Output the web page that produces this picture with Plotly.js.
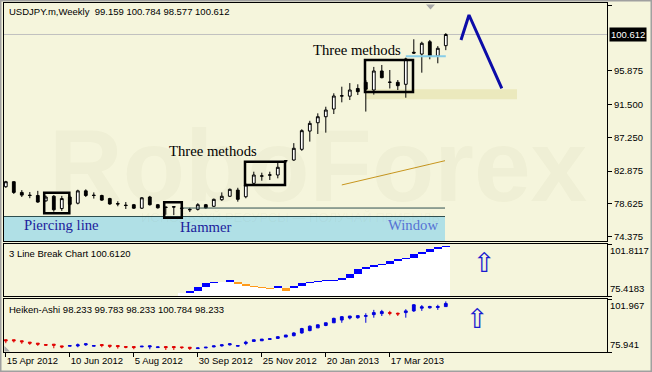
<!DOCTYPE html>
<html><head><meta charset="utf-8">
<script src="https://cdn.plot.ly/plotly-3.0.1.min.js"></script>
<style>html,body{margin:0;padding:0;background:#f5f5dc;}#chart{width:652px;height:372px;}</style>
</head><body><div id="chart"></div>
<script>
// ---------- data ----------
const symbolLabel = 'USDJPY.m,Weekly  99.159 100.784 98.577 100.612';
const lbLabel = '3 Line Break Chart 100.6120';
const haLabel = 'Heiken-Ashi 98.233 99.783 98.233 100.784 98.233';
const firstWeek = '2012-04-15';

const open  = [80.84,81.49,80.1,79.75,79.7,79.0,79.6,78.0,79.5,78.7,80.3,79.75,79.7,79.3,78.65,78.45,78.5,78.05,79.5,78.5,78.2,78.25,78.0,77.9,77.9,78.5,78.3,79.15,79.6,80.4,79.54,81.28,82.2,82.33,82.36,84.18,84.31,85.7,88.07,89.15,89.93,90.93,92.6,92.6,93.6,94.4,93.4,95.87,94.38,94.4,94.14,98.3,98.07,99.67,97.82,99.159];
const high  = [81.6,81.55,80.4,80.15,80.3,79.7,79.75,79.65,79.7,80.45,80.5,80.1,79.8,79.4,78.95,78.85,78.6,79.5,79.65,78.6,78.25,78.3,78.2,78.1,78.7,78.6,79.3,80.1,80.6,80.7,81.28,82.79,82.66,82.79,83.96,84.3,86.5,88.3,89.4,90.37,91.23,92.97,93.83,94.3,94.14,94.7,96.4,96.65,96.0,94.7,97.6,99.99,99.67,99.9,99.1,100.784];
const low   = [80.7,79.9,79.5,79.35,78.75,78.9,77.6,77.7,78.4,78.55,79.5,79.3,79.0,78.5,78.3,77.95,77.95,77.95,78.4,78.0,77.2,77.15,77.9,77.55,77.75,78.0,78.2,79.0,79.5,78.9,79.34,81.19,81.62,81.71,81.93,83.9,84.2,85.5,86.7,87.69,87.86,90.28,91.8,92.1,92.75,90.6,92.8,94.92,93.6,93.4,92.4,98.1,95.65,97.39,96.87,98.577];
const close = [81.49,80.1,79.75,79.7,78.85,79.5,77.85,79.3,78.55,80.3,79.7,79.7,79.1,78.6,78.6,78.4,78.05,79.4,78.5,78.1,78.15,78.2,78.05,77.85,78.5,78.1,79.2,79.6,80.5,79.2,81.07,82.36,82.25,82.38,83.36,84.22,85.83,88.12,89.07,89.93,90.8,92.62,92.66,93.4,93.18,93.5,95.87,95.0,94.42,93.96,97.43,98.2,99.47,97.82,98.82,100.612];

const yTicks = [104.375,95.875,91.5,87.25,82.875,78.625,74.375];
const lastPrice = 100.612;
const tickDates = ['2012-04-15','2012-06-10','2012-08-05','2012-09-30','2012-11-25','2013-01-20','2013-03-17'];
const tickText = ['15 Apr 2012','10 Jun 2012','5 Aug 2012','30 Sep 2012','25 Nov 2012','20 Jan 2013','17 Mar 2013'];

// 3 line break panel (bricks from week 23)
const lbMin = 75.4183, lbMax = 101.8117;
const lbStart = 23;
const lbBottom = [77.09,78.11,80.14,81.86,82.37,82.68,81.36,80.65,80.14,79.63,78.97,79.63,78.11,79.63,80.65,81.86,82.68,83.0,83.1,83.54,84.40,86.58,88.97,90.29,91.15,91.66,93.34,94.05,94.55,96.58,97.90,99.12,100.14];
const lbTop    = [78.11,80.14,81.86,82.37,82.68,83.54,82.68,81.36,80.65,80.14,79.63,80.49,79.63,80.65,81.86,82.68,83.19,83.5,83.6,84.40,86.58,88.97,90.29,91.15,91.66,93.34,94.05,94.55,96.58,97.90,99.12,100.14,100.612];
const lbUp     = [1,1,1,1,1,1,0,0,0,0,0,1,0,1,1,1,1,1,1,1,1,1,1,1,1,1,1,1,1,1,1,1,1];
const lbFillStart = 22, lbFillFirst = 77.09;

// Heiken-Ashi panel
const haMin = 75.941, haMax = 101.967;
const haOpen  = [81.95,81.95,81.45,80.79,80.28,79.61,79.78,78.94,78.78,78.94,79.45,78.78,79.61,79.28,79.11,78.61,78.61,78.44,78.44,78.11,78.61,78.61,78.44,78.28,77.61,77.94,78.44,78.94,79.45,78.78,80.11,81.13,81.45,82.12,82.62,83.28,83.95,85.29,86.45,87.79,88.96,90.29,91.63,92.62,92.79,93.46,94.29,94.79,95.29,94.96,95.29,96.13,97.46,97.63,97.80,98.233];
const haHigh  = [81.95,81.95,81.45,80.79,80.28,79.61,79.78,78.94,79.11,80.11,80.11,79.11,79.61,79.28,79.11,78.61,78.61,78.78,78.94,78.44,78.61,78.61,78.44,78.28,77.94,78.28,78.94,79.45,80.11,79.11,81.45,81.95,82.28,82.45,83.62,84.28,85.62,87.79,88.96,89.45,90.29,92.79,93.62,93.62,93.96,94.96,96.63,96.63,96.13,95.29,96.96,99.47,98.97,98.63,99.13,100.784];
const haLow   = [80.28,80.62,79.95,79.45,78.94,79.28,77.78,77.78,78.78,78.28,78.94,78.78,78.28,77.94,77.61,77.78,77.28,78.44,77.28,78.11,76.94,76.94,77.44,76.94,77.61,77.94,78.28,78.61,79.11,78.78,79.28,81.13,81.45,82.12,82.45,83.28,83.62,84.95,86.12,87.79,88.62,90.29,90.29,91.96,92.29,90.29,92.79,93.62,93.96,93.62,92.79,95.63,96.13,97.30,96.63,98.233];
const haClose = [81.45,81.45,80.96,80.28,79.78,79.28,79.28,78.44,79.11,79.45,79.95,79.11,79.11,78.78,78.61,78.28,78.11,78.78,78.94,78.44,78.11,78.11,78.11,77.78,77.94,78.28,78.94,79.45,79.95,79.11,80.79,81.95,82.28,82.45,83.45,84.28,85.29,87.45,88.62,89.29,90.29,92.46,93.29,93.62,93.79,93.79,95.29,95.79,94.96,94.63,96.13,99.13,98.13,98.30,98.30,99.783];

// drawn analysis objects: [fromWeek, toWeek, lowPrice, highPrice]
const patternBoxes = [[4.8,7.94,77.39,80.06],[19.8,22.0,76.82,78.82],[29.9,34.9,81.07,84.09],[44.9,50.9,93.14,97.3]];
const windowBand = [-1, 54.9, 73.0, 76.97];
const supportLine = [22, 54.9, 78.07];
const gapLine = [50, 55, 97.8];
const targetZone = [44.9, 63.9, 92.19, 93.49];
const trendWeeks = [42.0, 54.9], trendPrice = [81.07, 84.22];
const zigzagWeeks = [56.9, 57.9, 62.0], zigzagPrice = [99.89, 103.14, 93.62];
const patternLabels = [
  ['Three methods', 25.9, 85.48, '#000000'],
  ['Three methods', 43.9, 98.6, '#000000'],
  ['Piercing line', 6.9, 75.87, '#20209c'],
  ['Hammer', 24.9, 75.6, '#20209c'],
  ['Window', 50.9, 75.87, '#5672d4']
];

// ---------- helpers ----------
const WEEK = 7*24*3600*1000;
const T0 = Date.parse(firstWeek + 'T00:00:00Z');
const wk = f => new Date(T0 + f*WEEK).toISOString().slice(0,19).replace('T',' ');
const dates = open.map((_, i) => wk(i));
const PL = 4, PR = 607, PT = 3, PB = 352;
const px = x => (x - PL) / (PR - PL);
const py = y => (PB - y) / (PB - PT);

// ---------- traces ----------
const traces = [];
traces.push({type:'candlestick', x:dates, open, high, low, close, xaxis:'x', yaxis:'y',
  increasing:{line:{color:'#000',width:1}, fillcolor:'#ffffff'},
  decreasing:{line:{color:'#000',width:1}, fillcolor:'#000000'},
  whiskerwidth:0, hoverinfo:'skip'});
traces.push({type:'scatter', mode:'lines', x:zigzagWeeks.map(wk), y:zigzagPrice, xaxis:'x', yaxis:'y',
  line:{color:'#0c0ca8', width:3}, hoverinfo:'skip'});
traces.push({type:'scatter', mode:'lines', x:trendWeeks.map(wk), y:trendPrice, xaxis:'x', yaxis:'y',
  line:{color:'#c8961e', width:1}, hoverinfo:'skip'});

const fillTop = [lbFillFirst].concat(lbBottom);
traces.push({type:'bar', x:dates.slice(lbFillStart), base:lbMin, y:fillTop.map(t => t - lbMin),
  width:WEEK, marker:{color:'#ffffff', line:{width:0}}, xaxis:'x2', yaxis:'y2', hoverinfo:'skip'});
traces.push({type:'bar', x:dates.slice(lbStart), base:lbBottom, y:lbTop.map((t,i) => t - lbBottom[i]),
  width:WEEK, marker:{color:lbUp.map(u => u ? '#0000ff' : '#ff9a1a'), line:{width:0}}, xaxis:'x2', yaxis:'y2', hoverinfo:'skip'});

traces.push({type:'candlestick', x:dates, open:haOpen, high:haHigh, low:haLow, close:haClose, xaxis:'x3', yaxis:'y3',
  increasing:{line:{color:'#0000dd',width:1}, fillcolor:'#0000dd'},
  decreasing:{line:{color:'#e00000',width:1}, fillcolor:'#e00000'},
  whiskerwidth:0, hoverinfo:'skip'});

// ---------- shapes ----------
const shapes = [];
shapes.push({type:'rect', xref:'x', yref:'y', x0:wk(targetZone[0]), x1:wk(targetZone[1]), y0:targetZone[2], y1:targetZone[3], fillcolor:'#ebe9bd', line:{width:0}, layer:'below'});
shapes.push({type:'rect', xref:'x', yref:'y', x0:wk(windowBand[0]), x1:wk(windowBand[1]), y0:windowBand[2], y1:windowBand[3], fillcolor:'#b0e0e6', line:{width:0}, layer:'below'});
shapes.push({type:'line', xref:'x', yref:'y', x0:wk(windowBand[0]), x1:wk(windowBand[1]), y0:windowBand[3], y1:windowBand[3], line:{color:'#2f4f4f', width:1}});
shapes.push({type:'line', xref:'x', yref:'y', x0:wk(supportLine[0]), x1:wk(supportLine[1]), y0:supportLine[2], y1:supportLine[2], line:{color:'#2f4f4f', width:1}});
shapes.push({type:'line', xref:'x', yref:'y', x0:wk(gapLine[0]), x1:wk(gapLine[1]), y0:gapLine[2], y1:gapLine[2], line:{color:'#87cde8', width:2}});
shapes.push({type:'line', xref:'paper', yref:'y', x0:0, x1:1, y0:lastPrice, y1:lastPrice, line:{color:'#c0c0c0', width:1}, layer:'below'});
patternBoxes.forEach(b => shapes.push({type:'rect', xref:'x', yref:'y', x0:wk(b[0]), x1:wk(b[1]), y0:b[2], y1:b[3], line:{color:'#000', width:2.5}, fillcolor:'rgba(0,0,0,0)'}));
// MT4 shift marker and corner marker
shapes.push({type:'path', xref:'paper', yref:'paper', path:`M ${px(426)} ${py(4.5)} L ${px(435)} ${py(4.5)} L ${px(430.5)} ${py(9.5)} Z`, fillcolor:'#a8a8a8', line:{width:0}});
shapes.push({type:'path', xref:'paper', yref:'paper', path:`M ${px(4.5)} ${py(346)} L ${px(4.5)} ${py(351.5)} L ${px(10)} ${py(351.5)} Z`, fillcolor:'#a8a8a8', line:{width:0}});
// window frame
shapes.push({type:'rect', xref:'paper', yref:'paper', x0:px(0), x1:px(652), y0:py(372), y1:py(0), line:{color:'#a0a0a0', width:3}, fillcolor:'rgba(0,0,0,0)'});

// ---------- annotations ----------
const sansFont = 'Liberation Sans, Arial, sans-serif';
const annotations = [];
annotations.push({text:'RoboForex', xref:'paper', yref:'paper', x:px(318), y:py(166), showarrow:false,
  font:{family:sansFont, size:102, color:'rgba(90,90,30,0.035)', weight:'bold'}});
annotations.push({text:'ИСПОЛЬЗУЙ РЕСУРСЫ — ПОЛУЧАЙ ПРИБЫЛЬ', xref:'paper', yref:'paper', x:px(442), y:py(217), showarrow:false,
  font:{family:sansFont, size:13, color:'rgba(90,90,30,0.05)'}});
[[symbolLabel,12],[lbLabel,253],[haLabel,309]].forEach(([t,y]) => annotations.push({text:t, xref:'paper', yref:'paper', x:px(7), y:py(y),
  xanchor:'left', yanchor:'middle', showarrow:false, font:{family:sansFont, size:9.5, color:'#000'}}));
patternLabels.forEach(([t,w,p,c]) => annotations.push({text:t, xref:'x', yref:'y', x:wk(w), y:p, showarrow:false,
  font:{family:'Liberation Serif, Times New Roman, serif', size:14.7, color:c}}));
annotations.push({text:lastPrice.toFixed(3), xref:'paper', yref:'y', x:1, y:lastPrice, xanchor:'left', xshift:2, showarrow:false,
  bgcolor:'#000', borderpad:1, font:{family:sansFont, size:9.5, color:'#fff'}});
annotations.push({text:'⇧', xref:'x2', yref:'y2', x:wk(59.8), y:92.2, showarrow:false, font:{family:'DejaVu Sans', size:27, color:'#1a1ad0'}});
annotations.push({text:'⇧', xref:'x3', yref:'y3', x:wk(58.9), y:92.4, showarrow:false, font:{family:'DejaVu Sans', size:27, color:'#1a1ad0'}});

// ---------- layout ----------
const commonX = {type:'date', range:[wk(-0.225), wk(75.15)], showgrid:false, zeroline:false, showline:true, mirror:true,
  linecolor:'#000', linewidth:1, rangeslider:{visible:false}, fixedrange:true};
const commonY = {side:'right', showgrid:false, zeroline:false, showline:true, mirror:true, linecolor:'#000', linewidth:1,
  ticks:'outside', ticklen:4, tickcolor:'#000', fixedrange:true};
const layout = {
  width:652, height:372, margin:{l:PL, r:652-PR, t:PT, b:372-PB, pad:0},
  paper_bgcolor:'#f5f5dc', plot_bgcolor:'#f5f5dc', showlegend:false,
  boxgap:0.5, barmode:'overlay', bargap:0,
  font:{family:sansFont, size:9.5, color:'#000'},
  xaxis: Object.assign({}, commonX, {anchor:'y', showticklabels:false, ticks:''}),
  xaxis2: Object.assign({}, commonX, {anchor:'y2', showticklabels:false, ticks:''}),
  xaxis3: Object.assign({}, commonX, {anchor:'y3', tickvals:tickDates, ticktext:tickText, ticks:'outside', ticklen:4, tickcolor:'#000', ticklabelposition:'outside right'}),
  yaxis: Object.assign({}, commonY, {domain:[py(241),1], anchor:'x', range:[73.79,104.70], tickvals:yTicks, ticktext:yTicks.map(v=>v.toFixed(3))}),
  yaxis2: Object.assign({}, commonY, {domain:[py(296),py(244)], anchor:'x2', range:[lbMin,lbMax], tickvals:[lbMax], ticktext:[lbMax.toFixed(4)], ticklabelposition:'outside bottom'}),
  yaxis4: Object.assign({}, commonY, {overlaying:'y2', anchor:'x2', range:[lbMin,lbMax], tickvals:[lbMin], ticktext:[lbMin.toFixed(4)], ticklabelposition:'outside top', showline:false}),
  yaxis3: Object.assign({}, commonY, {domain:[0,py(299)], anchor:'x3', range:[haMin,haMax], tickvals:[haMax], ticktext:[haMax.toFixed(3)], ticklabelposition:'outside bottom'}),
  yaxis5: Object.assign({}, commonY, {overlaying:'y3', anchor:'x3', range:[haMin,haMax], tickvals:[haMin], ticktext:[haMin.toFixed(3)], ticklabelposition:'outside top', showline:false}),
  shapes, annotations
};
// empty traces so the overlay axes are drawn
traces.push({type:'scatter', x:[], y:[], xaxis:'x2', yaxis:'y4'});
traces.push({type:'scatter', x:[], y:[], xaxis:'x3', yaxis:'y5'});

Plotly.newPlot('chart', traces, layout, {displayModeBar:false, staticPlot:true});
</script></body></html>
